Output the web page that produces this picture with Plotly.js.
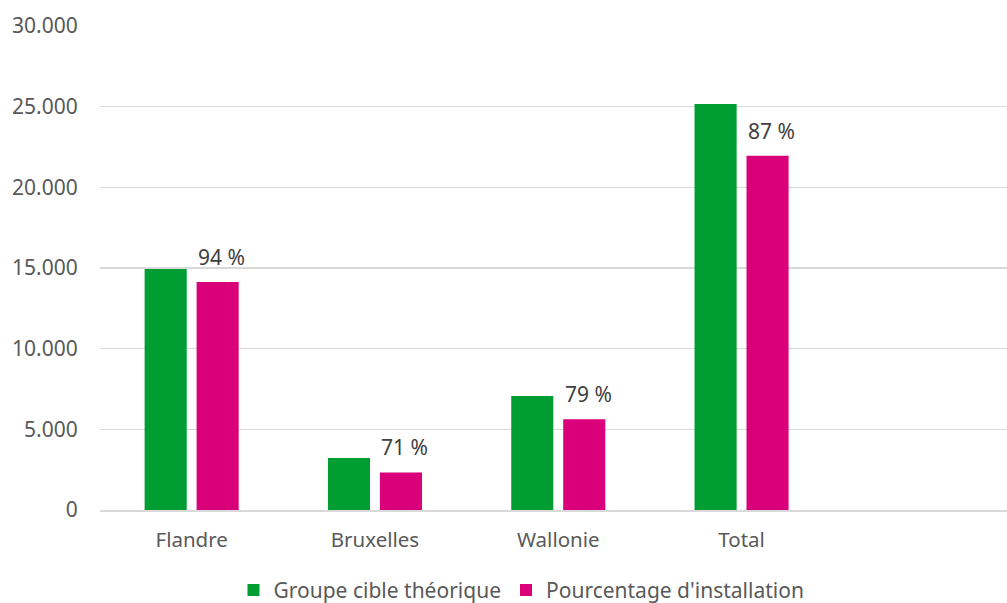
<!DOCTYPE html>
<html>
<head>
<meta charset="utf-8">
<script src="https://cdn.plot.ly/plotly-3.0.1.min.js"></script>
<style>html,body{margin:0;padding:0;background:#fff;}#chart{width:1007px;height:603px;}</style>
</head>
<body>
<div id="chart"></div>
<script>
const categories = ['Flandre', 'Bruxelles', 'Wallonie', 'Total'];
const groupeCible = [14940, 3220, 7070, 25170];
const installation = [14130, 2330, 5620, 21950];
const pctLabels = ['94 %', '71 %', '79 %', '87 %'];
const yTickVals = [0, 5000, 10000, 15000, 20000, 25000, 30000];
const yTickText = ['0', '5.000', '10.000', '15.000', '20.000', '25.000', '30.000'];

const FONT = 'Noto Sans, Open Sans, sans-serif';

const traces = [
  {
    type: 'bar', name: 'Groupe cible théorique',
    x: categories, y: groupeCible,
    marker: {color: '#009e32'}, hoverinfo: 'skip'
  },
  {
    type: 'bar', name: "Pourcentage d'installation",
    x: categories, y: installation,
    marker: {color: '#d9007a'}, hoverinfo: 'skip'
  }
];

const annotations = categories.map((c, i) => ({
  x: c, y: installation[i], xref: 'x', yref: 'y',
  text: pctLabels[i], showarrow: false,
  xshift: 30, yshift: 25, yanchor: 'middle', xanchor: 'center',
  font: {family: FONT, size: 21, color: '#404040'}
}));

const layout = {
  width: 1007, height: 603,
  margin: {l: 100, r: 0, t: 26, b: 93, autoexpand: false},
  paper_bgcolor: '#ffffff', plot_bgcolor: '#ffffff',
  barmode: 'group', bargap: 0.433, bargroupgap: 0.19,
  font: {family: FONT, color: '#595959'},
  xaxis: {
    type: 'category', categoryorder: 'array', categoryarray: categories,
    range: [-0.5, 4.448], automargin: false,
    showgrid: false, zeroline: false,
    showline: true, linecolor: '#d9d9d9', linewidth: 1.5,
    ticks: 'outside', ticklen: 11, tickcolor: 'rgba(0,0,0,0)',
    tickfont: {family: FONT, size: 20.5, color: '#595959'}
  },
  yaxis: {
    range: [0, 30000], tickvals: yTickVals, ticktext: yTickText, automargin: false,
    showgrid: true, gridcolor: '#d9d9d9', gridwidth: 1.5,
    zeroline: false, showline: false,
    ticks: 'outside', ticklen: 17, tickcolor: 'rgba(0,0,0,0)',
    tickfont: {family: FONT, size: 21, color: '#595959'}
  },
  showlegend: true,
  legend: {
    orientation: 'h', x: 0.4647, xanchor: 'center', y: -0.166, yanchor: 'middle',
    font: {family: FONT, size: 21, color: '#595959'},
    itemclick: false, itemdoubleclick: false, traceorder: 'normal'
  },
  annotations: annotations
};

Plotly.newPlot('chart', traces, layout, {displayModeBar: false, staticPlot: true});
</script>
</body>
</html>
